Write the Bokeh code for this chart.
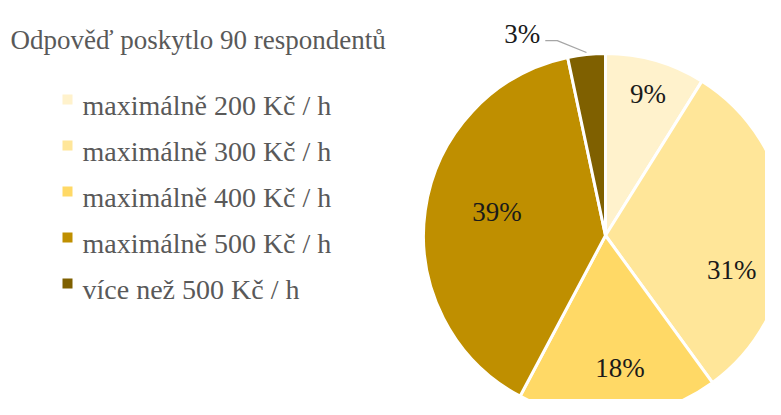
import math
from bokeh.plotting import figure
from bokeh.layouts import row
from bokeh.models import Range1d
from bokeh.core.properties import value
from bokeh.embed import file_html
from bokeh.resources import INLINE

# ---- data ----
title_text = "Odpověď poskytlo 90 respondentů"
categories = ["maximálně 200 Kč / h", "maximálně 300 Kč / h", "maximálně 400 Kč / h",
              "maximálně 500 Kč / h", "více než 500 Kč / h"]
counts = [8, 28, 16, 35, 3]
colors = ["#FFF2CC", "#FFE699", "#FFD966", "#BF8F00", "#7F6000"]

# ---- layout (pixel space of the picture) ----
W, H = 765, 399
SPLIT = 415
def px(X):
    return X
def py(Y):
    return H - Y

FONT_NAME = "Liberation Serif"
CX, CY, R = px(605), py(235), 182
# label placement: radial fraction and angular nudge (deg) per slice
lab_r = [0.81, 0.72, 0.73, 0.61, 1.20]
lab_nudge = [-0.8, -17.4, 2.3, -4.0, 16.4]

def base(x0, x1):
    f = figure(width=x1 - x0, height=H, x_range=Range1d(x0, x1), y_range=Range1d(0, H),
               output_backend="svg", toolbar_location=None, min_border=0)
    f.axis.visible = False
    f.grid.visible = False
    f.outline_line_color = None
    return f

# ---- left: title + legend ----
pl = base(0, SPLIT)
pl.text(x=[px(10)], y=[py(39)], text=[title_text], text_font=value(FONT_NAME),
        text_font_size="27px", text_color="#595959", text_baseline="alphabetic")
for k, (cat, col) in enumerate(zip(categories, colors)):
    yk = py(99) - 46 * k
    pl.scatter(x=[px(67)], y=[yk], marker="square", size=10, fill_color=col, line_color=None)
    pl.text(x=[px(82)], y=[yk - 6], text=[cat], text_font=value(FONT_NAME),
            text_font_size="28px", text_color="#595959", text_baseline="alphabetic")

# ---- right: pie ----
pr = base(SPLIT, W)
total = sum(counts)
mids = []
cum = 0
for c, col in zip(counts, colors):
    a0 = math.pi / 2 - 2 * math.pi * cum / total
    cum += c
    a1 = math.pi / 2 - 2 * math.pi * cum / total
    mids.append((a0 + a1) / 2)
    pr.wedge(x=CX, y=CY, radius=R, start_angle=a0, end_angle=a1, direction="clock",
             fill_color=col, line_color="white", line_width=3)

lx, ly = [], []
for i, c in enumerate(counts):
    a = mids[i] + math.radians(lab_nudge[i])
    lx.append(CX + lab_r[i] * R * math.cos(a))
    ly.append(CY + lab_r[i] * R * math.sin(a))
    pr.text(x=[lx[i]], y=[ly[i]], text=[f"{round(100 * c / total)}%"], text_font=value(FONT_NAME),
            text_font_size="27px", text_color="#1a1a1a", text_align="center",
            text_baseline="middle")

i = len(counts) - 1
ex = CX + R * math.cos(mids[i])
ey = CY + R * math.sin(mids[i])
pr.line(x=[ex, lx[i] + 35, lx[i] + 23], y=[ey + 2, ly[i] - 7, ly[i] - 7],
        line_color="#A6A6A6", line_width=1.3)

open("out.html", "w").write(file_html(row(pl, pr, spacing=0), INLINE))
